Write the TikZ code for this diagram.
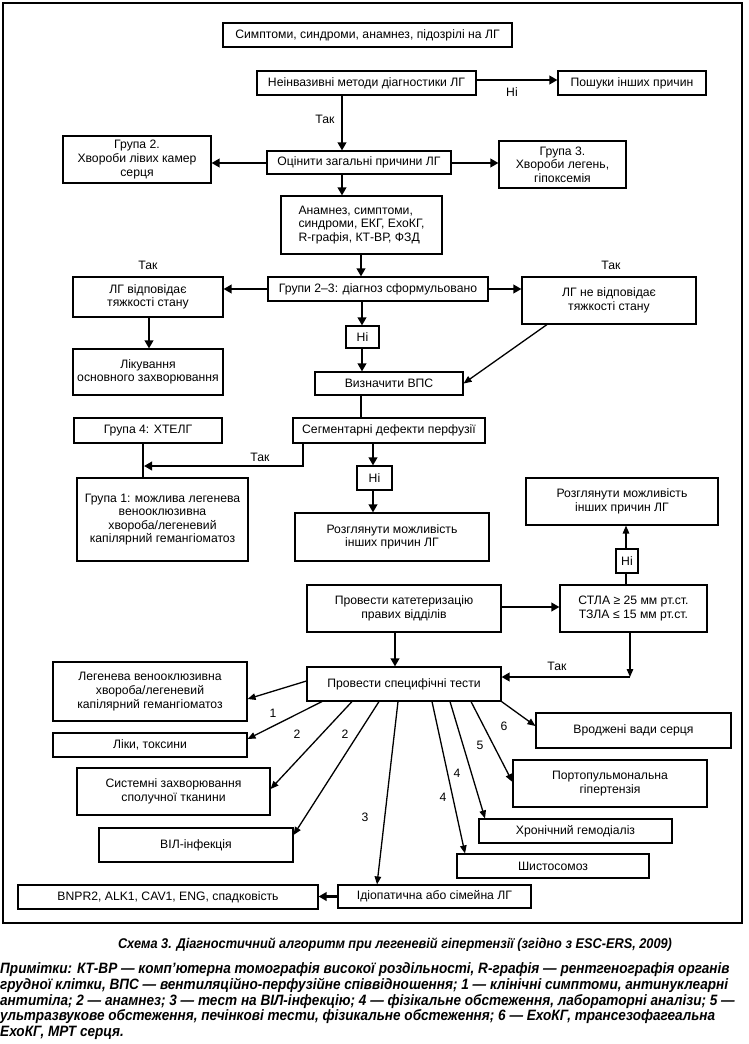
\documentclass[tikz,border=0pt]{standalone}
\usepackage{fontspec}
\setmainfont{Liberation Sans}
\newfontfamily\capfont[FakeStretch=0.905]{Liberation Sans}
\usetikzlibrary{arrows.meta}
\begin{document}
\begin{tikzpicture}[x=1pt,y=-1pt,
  box/.style={draw, line width=1.1pt, inner sep=0pt, align=center, font=\fontsize{12.2}{13.6}\selectfont},
  lbl/.style={inner sep=1pt, font=\fontsize{12.2}{13.6}\selectfont},
  thk/.style={line width=2.8pt, -{Triangle[length=8pt,width=8.5pt]}},
  thkline/.style={line width=2.8pt},
  thn/.style={line width=1.3pt, -{Triangle[length=8pt,width=6.5pt]}},
  thnline/.style={line width=1.3pt},
  notes/.style={anchor=base west, inner sep=0pt, font=\capfont\bfseries\itshape\fontsize{15}{16}\selectfont}]
\useasboundingbox (0,0) rectangle (748,1044);
\fill[white] (0,0) rectangle (748,1044);
\draw[line width=1.4pt] (3,3) rectangle (742,923);

% boxes
\node[box, minimum width=289pt, minimum height=24pt] (b1) at (367.5,35) {Симптоми, синдроми, анамнез, підозрілі на ЛГ};
\node[box, minimum width=219pt, minimum height=24pt] (b2) at (366.5,83) {Неінвазивні методи діагностики ЛГ};
\node[box, minimum width=148pt, minimum height=24pt] (b3) at (632,83) {Пошуки інших причин};
\node[box, minimum width=184pt, minimum height=23pt] (b5) at (359,162.5) {Оцінити загальні причини ЛГ};
\node[box, minimum width=148pt, minimum height=47pt] (b6) at (137,159.5) {Група 2.\\Хвороби лівих камер\\серця};
\node[box, minimum width=127pt, minimum height=47pt] (b7) at (562.5,164.5) {Група 3.\\Хвороби легень,\\гіпоксемія};
\node[box, align=left, minimum width=161pt, minimum height=58pt] (b8) at (361.5,225) {Анамнез, симптоми,\\синдроми, ЕКГ, ЕхоКГ,\\R-графія, КТ-ВР, ФЗД};
\node[box, minimum width=220pt, minimum height=24pt] (b9) at (378,289) {Групи 2–3: діагноз сформульовано};
\node[box, minimum width=150pt, minimum height=40pt] (b10) at (148,297) {ЛГ відповідає\\тяжкості стану};
\node[box, minimum width=174pt, minimum height=47pt] (b11) at (609,300.5) {ЛГ не відповідає\\тяжкості стану};
\node[box, minimum width=150pt, minimum height=46pt] (b12) at (148,372) {Лікування\\основного захворювання};
\node[box, minimum width=33pt, minimum height=22pt] (n1) at (362.5,337) {Ні};
\node[box, minimum width=148pt, minimum height=23pt] (b14) at (389,383.5) {Визначити ВПС};
\node[box, minimum width=192pt, minimum height=25pt] (b15) at (389,430.5) {Сегментарні дефекти перфузії};
\node[box, minimum width=148pt, minimum height=25pt] (gr4) at (148,430.5) {Група 4: ХТЕЛГ};
\node[box, minimum width=171pt, minimum height=83pt] (gr1) at (162.5,519.5) {Група 1: можлива легенева\\венооклюзивна\\хвороба/легеневий\\капілярний гемангіоматоз};
\node[box, minimum width=35pt, minimum height=24pt] (n2) at (374.5,478) {Ні};
\node[box, minimum width=194pt, minimum height=48pt] (b19) at (392,537) {Розглянути можливість\\інших причин ЛГ};
\node[box, minimum width=192pt, minimum height=47pt] (b20) at (622,501.5) {Розглянути можливість\\інших причин ЛГ};
\node[box, minimum width=22pt, minimum height=24pt] (n3) at (627,561) {Ні};
\node[box, minimum width=147pt, minimum height=47pt] (b22) at (633.5,608.5) {СТЛА ≥ 25 мм рт.ст.\\ТЗЛА ≤ 15 мм рт.ст.};
\node[box, minimum width=194pt, minimum height=47pt] (b23) at (404,608.5) {Провести катетеризацію\\правих відділів};
\node[box, minimum width=194pt, minimum height=34pt] (b24) at (404,684) {Провести специфічні тести};
\node[box, minimum width=194pt, minimum height=59pt] (b25) at (150,691.5) {Легенева венооклюзивна\\хвороба/легеневий\\капілярний гемангіоматоз};
\node[box, minimum width=194pt, minimum height=24pt] (b26) at (150,745) {Ліки, токсини};
\node[box, minimum width=193pt, minimum height=47pt] (b27) at (173.5,791.5) {Системні захворювання\\сполучної тканини};
\node[box, minimum width=194pt, minimum height=34pt] (b28) at (196,845) {ВІЛ-інфекція};
\node[box, minimum width=193pt, minimum height=23pt] (b29) at (434.5,896.5) {Ідіопатична або сімейна ЛГ};
\node[box, minimum width=300pt, minimum height=24pt] (b30) at (168,897) {BNPR2, ALK1, CAV1, ENG, спадковість};
\node[box, minimum width=192pt, minimum height=24pt] (b31) at (553,866) {Шистосомоз};
\node[box, minimum width=193pt, minimum height=24pt] (b32) at (575.5,831) {Хронічний гемодіаліз};
\node[box, minimum width=194pt, minimum height=47pt] (b33) at (610,783.5) {Портопульмональна\\гіпертензія};
\node[box, minimum width=195pt, minimum height=35pt] (b34) at (633.5,730.5) {Вроджені вади серця};

% connectors top part
\draw[thk] (b2.east |- 0,80) -- (b3.west |- 0,80);
\node[lbl] (tn1) at (512,92) {Ні};
\draw[thk] (b2.south -| 342,0) -- (b5.north -| 342,0);
\node[lbl] (tt1) at (325,119) {Так};
\draw[thk] (b5.west |- 0,163) -- (b6.east |- 0,163);
\draw[thk] (b5.east |- 0,163) -- (b7.west |- 0,163);
\draw[thk] (b5.south -| 342,0) -- (b8.north -| 342,0);
\draw[thk] (b8.south -| 361,0) -- (b9.north -| 361,0);
\draw[thk] (b9.west) -- (b10.east |- b9.west);
\draw[thk] (b9.east) -- (b11.west |- b9.east);
\node[lbl] (tt2) at (148,265) {Так};
\node[lbl] (tt3) at (611,265) {Так};
\draw[thk] (b10.south -| 149,0) -- (b12.north -| 149,0);
\draw[thk] (b9.south -| 362,0) -- (n1.north -| 362,0);
\draw[thk] (n1.south -| 362,0) -- (b14.north -| 362,0);
\draw[thn] (b11.south -| 547,0) -- (b14.east);
\draw[thkline] (b14.south -| 361,0) -- (b15.north -| 361,0);
\coordinate (c1) at (303,466);
\draw[thk] (b15.south -| c1) -- (c1) -- (c1 -| 144,0);
\draw[thkline] (gr4.south -| 143,0) -- (gr1.north -| 143,0);
\node[lbl] (tt4) at (260,457) {Так};
\draw[thk] (b15.south -| 373,0) -- (n2.north -| 373,0);
\draw[thk] (n2.south -| 373,0) -- (b19.north -| 373,0);
\draw[thnline] (b22.north -| 626,0) -- (n3.south -| 626,0);
\draw[thn] (n3.north -| 626,0) -- (b20.south -| 626,0);
\draw[thk] (b23.east |- 0,607) -- (b22.west |- 0,607);
\draw[thk] (b23.south -| 395,0) -- (b24.north -| 395,0);
\coordinate (c2) at (630,677);
\draw[thn] (b22.south -| c2) -- (c2);
\draw[thk] (c2) -- (b24.east |- c2);
\node[lbl] (tt5) at (557,666) {Так};
\draw[thk] (b29.west) -- (b30.east |- b29.west);

% fan from specific tests
\draw[thn] (b24.west |- 0,681) -- (b25.east |- 0,699);
\draw[thn] (b24.south -| 322,0) -- (b26.east |- 0,739);
\draw[thn] (b24.south -| 352,0) -- (b27.east |- 0,789);
\draw[thn] (b24.south -| 379,0) -- (b28.east |- 0,835);
\draw[thn] (b24.south -| 398,0) -- (b29.north -| 377,0);
\draw[thn] (b24.south -| 432,0) -- (b31.north -| 465,0);
\draw[thn] (b24.south -| 450,0) -- (b32.north -| 485,0);
\draw[thn] (b24.south -| 471,0) -- (b33.west |- 0,782);
\draw[thn] (b24.south east) -- (b34.west |- 0,726);
\node[lbl] (f1) at (273,713) {1};
\node[lbl] (f2) at (297,734) {2};
\node[lbl] (f3) at (345,734) {2};
\node[lbl] (f4) at (365,817) {3};
\node[lbl] (f5) at (443,797) {4};
\node[lbl] (f6) at (457,773) {4};
\node[lbl] (f7) at (480,745) {5};
\node[lbl] (f8) at (504,726) {6};

% caption and notes
\node[anchor=base, inner sep=0pt, font=\capfont\bfseries\itshape\fontsize{14.1}{15}\selectfont] (cap) at (395,948) {Схема 3. Діагностичний алгоритм при легеневій гіпертензії (згідно з ESC-ERS, 2009)};
\node[notes] (nt1) at (0,973) {Примітки: КТ-ВР — комп’ютерна томографія високої роздільності, R-графія — рентгенографія органів};
\node[notes] (nt2) at (0,989) {грудної клітки, ВПС — вентиляційно-перфузійне співвідношення; 1 — клінічні симптоми, антинуклеарні};
\node[notes] (nt3) at (0,1005) {антитіла; 2 — анамнез; 3 — тест на ВІЛ-інфекцію; 4 — фізікальне обстеження, лабораторні аналізи; 5 —};
\node[notes] (nt4) at (0,1020) {ультразвукове обстеження, печінкові тести, фізикальне обстеження; 6 — ЕхоКГ, трансезофагеальна};
\node[notes] (nt5) at (0,1036) {ЕхоКГ, МРТ серця.};
\end{tikzpicture}
\end{document}
